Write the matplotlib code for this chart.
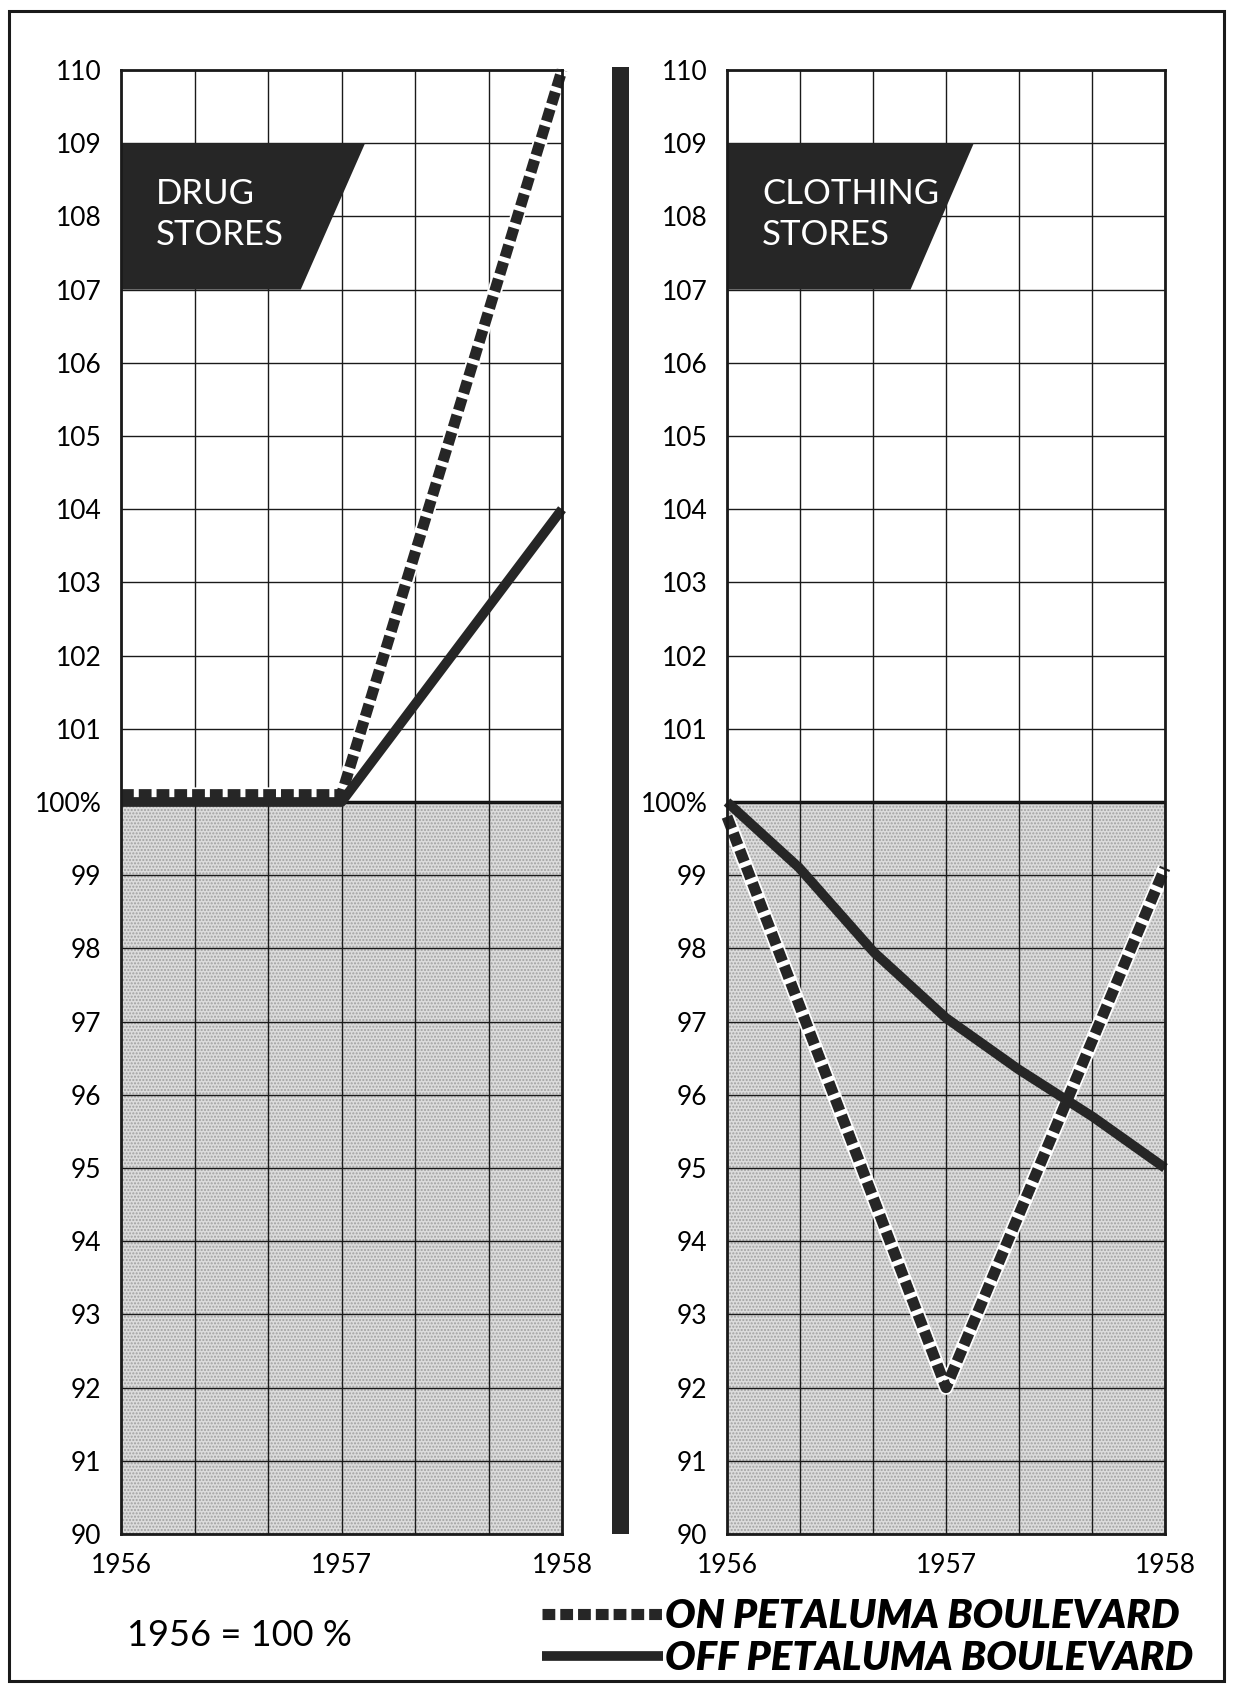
import matplotlib.pyplot as plt
import matplotlib.patches as mpatches

plt.rcParams['font.family'] = ['Lato', 'DejaVu Sans']

# ---- data (1956 = 100 %) ----
years = [1956.0, 1957.0, 1958.0]
drug_on = [100.1, 100.1, 110.0]
drug_off = [100.0, 100.0, 104.0]

cloth_on_years = [1956.0, 1957.0, 1958.0]
cloth_on = [99.8, 92.0, 99.1]
cloth_off_years = [1956.0, 1956.33, 1956.67, 1957.0, 1957.33, 1957.67, 1958.0]
cloth_off = [100.0, 99.1, 97.95, 97.05, 96.35, 95.7, 95.0]

panel_titles = ['DRUG\nSTORES', 'CLOTHING\nSTORES']
title_box_right = [(1957.107, 1956.815), (1957.127, 1956.838)]  # top / bottom right corners
ytick_values = list(range(90, 111))
ytick_labels = [('100%' if v == 100 else str(v)) for v in ytick_values]
xtick_values = [1956, 1957, 1958]
xtick_labels = ['1956', '1957', '1958']
legend_labels = ['ON PETALUMA BOULEVARD', 'OFF PETALUMA BOULEVARD']

DARK = '#262626'
W, H = 1233, 1684
fig = plt.figure(figsize=(W / 100, H / 100), dpi=100)
fig.patch.set_facecolor('white')

ax_l = fig.add_axes([121 / W, 1 - 1534 / H, 441 / W, 1464 / H])
ax_r = fig.add_axes([727 / W, 1 - 1534 / H, 438 / W, 1464 / H])


def style_panel(ax):
    ax.set_xlim(1956, 1958)
    ax.set_ylim(90, 110)
    ax.axhspan(90, 100, facecolor='#dcdcdc', edgecolor='#a0a0a0', hatch='.....', lw=0, zorder=0)
    ax.set_xticks(xtick_values)
    ax.set_xticklabels(xtick_labels, fontsize=19)
    ax.set_xticks([1956 + i / 3 for i in range(7)], minor=True)
    ax.set_yticks(ytick_values)
    ax.set_yticklabels(ytick_labels, fontsize=19)
    ax.tick_params(which='both', length=0)
    ax.tick_params(axis='y', pad=14)
    ax.tick_params(axis='x', pad=14)
    ax.grid(True, which='both', color='#1a1a1a', lw=1.0, zorder=1)
    ax.set_axisbelow(False)
    for sp in ax.spines.values():
        sp.set_linewidth(2.0)
        sp.set_color('#1a1a1a')
        sp.set_zorder(6)
    ax.axhline(100, color='#111111', lw=2.5, zorder=2)


def draw_on(ax, x, y):
    ax.plot(x, y, color='white', lw=10.5, solid_capstyle='butt', zorder=4, clip_on=False)
    line, = ax.plot(x, y, color=DARK, lw=8, dashes=(1.15, 0.45), dash_capstyle='butt',
                    zorder=5, clip_on=False)
    return line


def draw_off(ax, x, y):
    line, = ax.plot(x, y, color=DARK, lw=7, solid_capstyle='butt', solid_joinstyle='round',
                    zorder=5, clip_on=False)
    return line


def title_box(ax, text, corners):
    top_r, bot_r = corners
    ax.fill([1956, top_r, bot_r, 1956], [109, 109, 107, 107], color=DARK, zorder=3, lw=0)
    ax.text(1956.16, 108.02, text, color='white', fontsize=25, va='center', ha='left',
            linespacing=1.35, zorder=7)


for ax in (ax_l, ax_r):
    style_panel(ax)

title_box(ax_l, panel_titles[0], title_box_right[0])
title_box(ax_r, panel_titles[1], title_box_right[1])

h_off = draw_off(ax_l, years, drug_off)
h_on = draw_on(ax_l, years, drug_on)
draw_off(ax_r, cloth_off_years, cloth_off)
draw_on(ax_r, cloth_on_years, cloth_on)

# central divider bar
fig.add_artist(mpatches.Rectangle((612 / W, 1 - 1534 / H), 17 / W, 1467 / H,
                                  transform=fig.transFigure, color=DARK, lw=0))
# outer frame
fig.add_artist(mpatches.Rectangle((9 / W, 1 - 1681 / H), 1215 / W, 1670 / H,
                                  transform=fig.transFigure, fill=False, ec='#1a1a1a', lw=2.2))

fig.text(127 / W, 1 - 1636 / H, '1956 = 100 %', fontsize=26, va='center', ha='left')

fig.legend([h_on, h_off], legend_labels, loc='upper left', bbox_to_anchor=(542 / W, 1 - 1598 / H),
           frameon=False, handlelength=3.0, handletextpad=0.05, borderpad=0, borderaxespad=0,
           labelspacing=0.12, prop={'size': 29, 'weight': 'heavy', 'style': 'italic'})

fig.savefig('out.png', dpi=100)
